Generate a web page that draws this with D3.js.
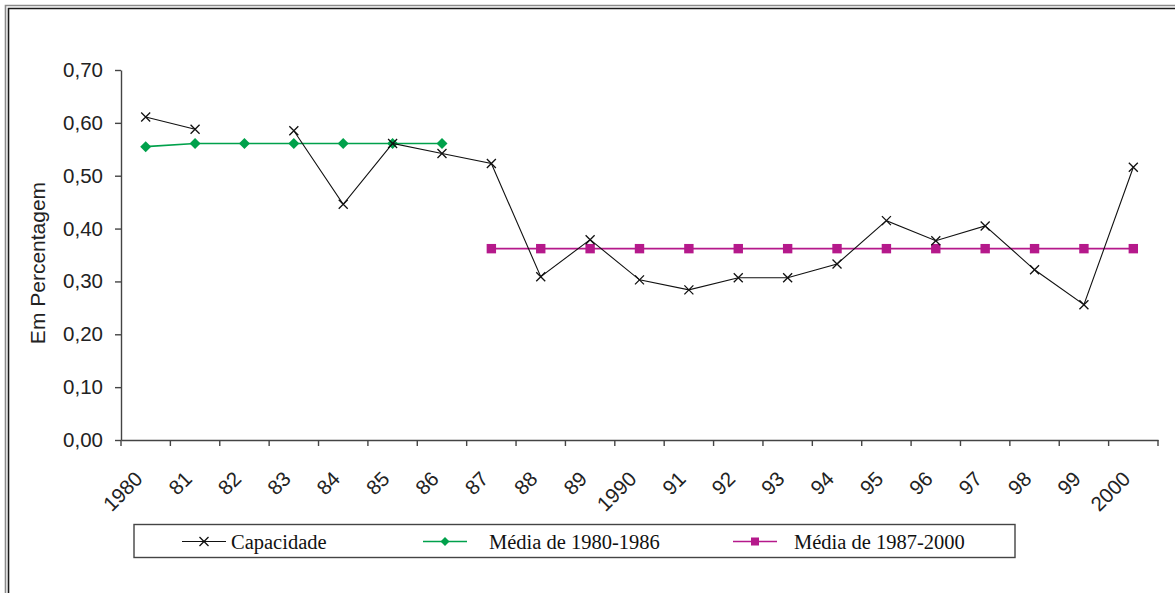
<!DOCTYPE html>
<html lang="pt">
<head>
    <meta charset="UTF-8">
    <title>Capacidade - Em Percentagem</title>
    <script src="https://d3js.org/d3.v7.min.js"></script>
    <style>
        html, body { margin: 0; padding: 0; background: #fff; }
        svg { display: block; }
    </style>
</head>
<body>
    <div id="chart"></div>

    <script>
        // dados
        const anos = ["1980", "81", "82", "83", "84", "85", "86", "87", "88", "89",
                      "1990", "91", "92", "93", "94", "95", "96", "97", "98", "99", "2000"];
        const capacidade = [0.611, 0.588, null, 0.585, 0.446, 0.561, 0.542, 0.523, 0.309, 0.379,
                            0.303, 0.284, 0.307, 0.307, 0.333, 0.415, 0.377, 0.405, 0.322, 0.256, 0.516];
        const media8086 = [0.555, 0.561, 0.561, 0.561, 0.561, 0.561, 0.561];
        const media872000 = [0.362, 0.362, 0.362, 0.362, 0.362, 0.362, 0.362,
                             0.362, 0.362, 0.362, 0.362, 0.362, 0.362, 0.362];
        const yTicks = [0, 0.1, 0.2, 0.3, 0.4, 0.5, 0.6, 0.7];

        const width = 1175;
        const height = 593;
        const margin = { top: 70, right: 17, bottom: 153, left: 121 };

        const svg = d3.select("#chart")
            .append("svg")
            .attr("width", width)
            .attr("height", height);

        // moldura
        svg.append("path")
            .attr("d", `M5.5,${height} V5.5 H${width}`)
            .attr("fill", "none").attr("stroke", "#8a8a8a").attr("stroke-width", 1.6);
        svg.append("path")
            .attr("d", `M8.5,${height} V8.5 H${width}`)
            .attr("fill", "none").attr("stroke", "#1a1a1a").attr("stroke-width", 1.6);

        // escalas
        const x = d3.scaleBand()
            .domain(anos)
            .range([margin.left, width - margin.right])
            .padding(0);

        const y = d3.scaleLinear()
            .domain([0, 0.7])
            .range([height - margin.bottom, margin.top]);

        const cx = i => x(anos[i]) + x.bandwidth() / 2;
        const fmt = d => d3.format(".2f")(d).replace(".", ",");

        // eixo Y
        const gy = svg.append("g")
            .attr("transform", `translate(${margin.left},0)`)
            .call(d3.axisLeft(y).tickValues(yTicks).tickFormat(fmt).tickSize(6).tickSizeOuter(0).tickPadding(12));
        gy.selectAll("text")
            .attr("font-family", "Liberation Sans, Arial, sans-serif")
            .attr("font-size", 20.5).attr("fill", "#222");

        // eixo X
        const gx = svg.append("g")
            .attr("transform", `translate(0,${y(0)})`)
            .call(d3.axisBottom(x).tickSize(0).tickSizeOuter(0).tickFormat(d => d));
        gx.selectAll(".tick text")
            .attr("font-family", "Liberation Sans, Arial, sans-serif")
            .attr("font-size", 20.5).attr("fill", "#222")
            .attr("text-anchor", "end")
            .attr("dy", "0.35em")
            .attr("transform", "translate(-9,33) rotate(-45)");
        // marcas entre as categorias
        gx.selectAll(".sep")
            .data(anos.map(a => x(a)).concat([x(anos[anos.length - 1]) + x.bandwidth()]))
            .join("line")
            .attr("class", "sep")
            .attr("x1", d => d).attr("x2", d => d)
            .attr("y1", 0).attr("y2", 6);

        svg.selectAll(".domain, .tick line, .sep")
            .attr("stroke", "#444").attr("stroke-width", 1.4);

        // linhas
        const line = d3.line()
            .defined(d => d.v != null)
            .x(d => cx(d.i))
            .y(d => y(d.v));

        const capData = capacidade.map((v, i) => ({ i, v }));
        const m1Data = media8086.map((v, i) => ({ i, v }));
        const m2Data = media872000.map((v, i) => ({ i: i + 7, v }));

        const verde = "#00a14b";
        const magenta = "#b5198b";

        svg.append("path").datum(m1Data)
            .attr("d", line).attr("fill", "none")
            .attr("stroke", verde).attr("stroke-width", 1.6);
        svg.append("path").datum(m2Data)
            .attr("d", line).attr("fill", "none")
            .attr("stroke", magenta).attr("stroke-width", 1.6);

        svg.selectAll(".m1").data(m1Data).join("path")
            .attr("class", "m1")
            .attr("transform", d => `translate(${cx(d.i)},${y(d.v)})`)
            .attr("d", "M0,-5.5 L5.5,0 L0,5.5 L-5.5,0 Z")
            .attr("fill", verde);
        svg.selectAll(".m2").data(m2Data).join("rect")
            .attr("class", "m2")
            .attr("x", d => cx(d.i) - 4.7).attr("y", d => y(d.v) - 4.7)
            .attr("width", 9.4).attr("height", 9.4)
            .attr("fill", magenta);

        svg.append("path").datum(capData)
            .attr("d", line).attr("fill", "none")
            .attr("stroke", "#111").attr("stroke-width", 1.1);
        const xMark = "M-4.5,-4.5 L4.5,4.5 M-4.5,4.5 L4.5,-4.5";
        svg.selectAll(".cap").data(capData.filter(d => d.v != null)).join("path")
            .attr("class", "cap")
            .attr("transform", d => `translate(${cx(d.i)},${y(d.v)})`)
            .attr("d", xMark)
            .attr("stroke", "#111").attr("stroke-width", 1.3).attr("fill", "none");

        // título do eixo Y
        svg.append("text")
            .attr("transform", `translate(45,${(y(0) + y(0.7)) / 2 + 8}) rotate(-90)`)
            .attr("text-anchor", "middle")
            .attr("font-family", "Liberation Sans, Arial, sans-serif")
            .attr("font-size", 21).attr("fill", "#222")
            .text("Em Percentagem");

        // legenda
        const leg = svg.append("g");
        leg.append("rect")
            .attr("x", 134).attr("y", 524.5).attr("width", 881).attr("height", 33)
            .attr("fill", "none").attr("stroke", "#444").attr("stroke-width", 1.4);
        const itens = [
            { nome: "Capacidade", x0: 182, tx: 231, cor: "#111", tipo: "x" },
            { nome: "Média de 1980-1986", x0: 423, tx: 489, cor: verde, tipo: "d" },
            { nome: "Média de 1987-2000", x0: 733, tx: 794, cor: magenta, tipo: "s" }
        ];
        const ly = 541.5;
        itens.forEach(it => {
            leg.append("line")
                .attr("x1", it.x0).attr("x2", it.x0 + 44)
                .attr("y1", ly).attr("y2", ly)
                .attr("stroke", it.cor).attr("stroke-width", it.tipo === "x" ? 1.1 : 1.6);
            const g = leg.append("g").attr("transform", `translate(${it.x0 + 22},${ly})`);
            if (it.tipo === "x") {
                g.append("path").attr("d", xMark).attr("stroke", it.cor)
                    .attr("stroke-width", 1.3).attr("fill", "none");
            } else if (it.tipo === "d") {
                g.append("path").attr("d", "M0,-4.5 L4.5,0 L0,4.5 L-4.5,0 Z").attr("fill", it.cor);
            } else {
                g.append("rect").attr("x", -4).attr("y", -4).attr("width", 8).attr("height", 8)
                    .attr("fill", it.cor);
            }
            leg.append("text")
                .attr("x", it.tx).attr("y", 548.5)
                .attr("font-family", "Liberation Serif, Times New Roman, serif")
                .attr("font-size", 20.5).attr("fill", "#111")
                .text(it.nome);
        });
    </script>
</body>
</html>
